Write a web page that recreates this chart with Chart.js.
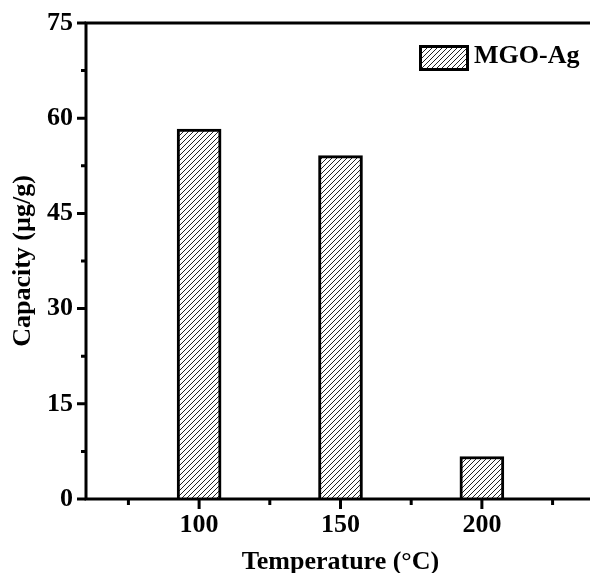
<!DOCTYPE html>
<html>
<head>
<meta charset="utf-8">
<script src="https://cdn.jsdelivr.net/npm/chart.js@4.4.1/dist/chart.umd.min.js"></script>
<style>
  html, body { margin: 0; padding: 0; background: #fff; overflow: hidden; }
  #graficoCapacidad { display: block; }
</style>
</head>
<body>
<canvas id="graficoCapacidad" width="600" height="573"></canvas>
<script>
// datos del grafico
var temperaturas = [100, 150, 200];
var capacidad = [58.3, 54.1, 6.7];
var ticksY = [0, 15, 30, 45, 60, 75];
var ticksMenoresY = [7.5, 22.5, 37.5, 52.5, 67.5];
var ticksMenoresX = [75, 125, 175, 225];
var nombreSerie = 'MGO-Ag';

var fuente = 'Liberation Serif, Times New Roman, serif';

// patron rayado para las barras
function crearPatron() {
  var c = document.createElement('canvas');
  c.width = 5;
  c.height = 5;
  var p = c.getContext('2d');
  p.fillStyle = '#fff';
  p.fillRect(0, 0, 5, 5);
  p.strokeStyle = '#222';
  p.lineWidth = 1;
  p.beginPath();
  p.moveTo(0, 5); p.lineTo(5, 0);
  p.moveTo(-1, 1); p.lineTo(1, -1);
  p.moveTo(4, 6); p.lineTo(6, 4);
  p.stroke();
  return p.createPattern(c, 'repeat');
}

var rayado = crearPatron();

// ejes, marcas y leyenda
var marcoEjes = {
  id: 'marcoEjes',
  afterDatasetsDraw: function(chart) {
    var ctx = chart.ctx;
    var area = chart.chartArea;
    var x = chart.scales.x;
    var y = chart.scales.y;
    ctx.save();
    ctx.strokeStyle = '#000';
    ctx.lineWidth = 3;
    ctx.lineCap = 'butt';
    ctx.beginPath();
    ctx.moveTo(area.left, area.top);
    ctx.lineTo(area.right, area.top);
    ctx.moveTo(area.left, area.top - 1.5);
    ctx.lineTo(area.left, area.bottom + 1.5);
    ctx.moveTo(area.left - 1.5, area.bottom);
    ctx.lineTo(area.right, area.bottom);
    ctx.moveTo(area.right, area.top);
    ctx.lineTo(area.right, area.bottom);
    ctx.stroke();

    ctx.beginPath();
    ticksY.forEach(function(v) {
      var py = y.getPixelForValue(v);
      ctx.moveTo(area.left - 9, py);
      ctx.lineTo(area.left, py);
    });
    ticksMenoresY.forEach(function(v) {
      var py = y.getPixelForValue(v);
      ctx.moveTo(area.left - 5, py);
      ctx.lineTo(area.left, py);
    });
    temperaturas.forEach(function(v) {
      var px = x.getPixelForValue(v);
      ctx.moveTo(px, area.bottom);
      ctx.lineTo(px, area.bottom + 10);
    });
    ticksMenoresX.forEach(function(v) {
      var px = x.getPixelForValue(v);
      ctx.moveTo(px, area.bottom);
      ctx.lineTo(px, area.bottom + 6);
    });
    ctx.stroke();

    // leyenda
    var lx = area.right - 176;
    var ly = area.top + 22;
    ctx.fillStyle = rayado;
    ctx.fillRect(lx, ly, 50, 26);
    ctx.strokeRect(lx + 1.5, ly + 1.5, 47, 23);
    ctx.fillStyle = '#000';
    ctx.font = 'bold 26px ' + fuente;
    ctx.textBaseline = 'middle';
    ctx.textAlign = 'left';
    ctx.fillText(nombreSerie, lx + 55, ly + 11);
    ctx.restore();
  }
};

// quitar el relleno extra que la escala agrega por sus etiquetas
function sinRelleno(s) {
  s.paddingTop = 0;
  s.paddingBottom = 0;
  s.paddingLeft = 0;
  s.paddingRight = 0;
}

var canvas = document.getElementById('graficoCapacidad');
var ctx = canvas.getContext('2d');

var graficoCapacidad = new Chart(ctx, {
  type: 'bar',
  data: {
    datasets: [
      {
        label: nombreSerie,
        data: temperaturas.map(function(t, i) { return { x: t, y: capacidad[i] }; }),
        backgroundColor: rayado,
        borderColor: '#000',
        borderWidth: 3,
        barThickness: 44
      }
    ]
  },
  options: {
    responsive: false,
    animation: false,
    layout: { padding: { top: 23, right: 5, left: 0, bottom: 0 } },
    plugins: {
      legend: { display: false },
      tooltip: { enabled: false }
    },
    scales: {
      x: {
        type: 'linear',
        min: 60,
        max: 240,
        offset: false,
        afterBuildTicks: function(s) {
          s.ticks = temperaturas.map(function(v) { return { value: v }; });
        },
        afterFit: function(s) { s.height = 74; sinRelleno(s); },
        grid: { display: false, drawTicks: false, offset: false },
        border: { display: false },
        ticks: {
          color: '#000',
          padding: 11,
          font: { family: fuente, size: 26, weight: 'bold' }
        },
        title: {
          display: true,
          text: 'Temperature (°C)',
          color: '#000',
          padding: { top: 0, bottom: -2 },
          font: { family: fuente, size: 26, weight: 'bold', lineHeight: 1 }
        }
      },
      y: {
        min: 0,
        max: 75,
        afterBuildTicks: function(s) {
          s.ticks = ticksY.map(function(v) { return { value: v }; });
        },
        afterFit: function(s) { s.width = 86; sinRelleno(s); },
        grid: { display: false, drawTicks: false },
        border: { display: false },
        ticks: {
          color: '#000',
          padding: 13,
          font: { family: fuente, size: 26, weight: 'bold' }
        },
        title: {
          display: true,
          text: 'Capacity (µg/g)',
          color: '#000',
          padding: { top: 10, bottom: 0 },
          font: { family: fuente, size: 26, weight: 'bold', lineHeight: 1 }
        }
      }
    }
  },
  plugins: [marcoEjes]
});
</script>
</body>
</html>
